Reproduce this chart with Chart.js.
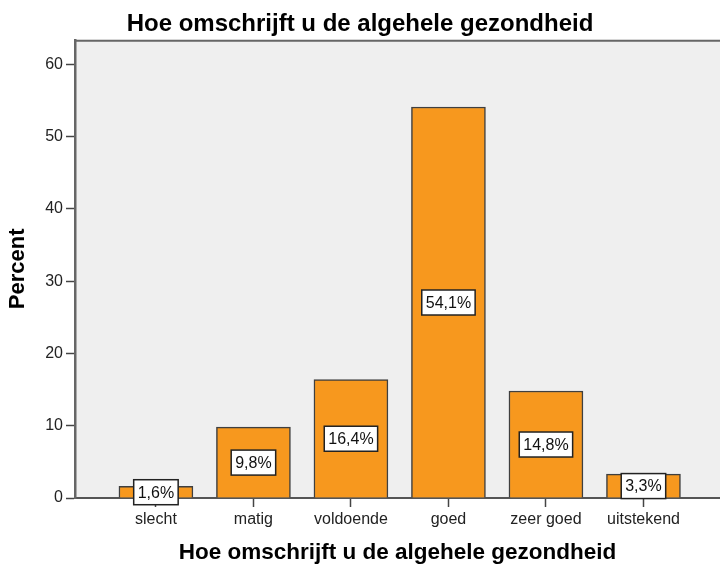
<!DOCTYPE html>
<html>
<head>
<meta charset="utf-8">
<script src="https://cdn.jsdelivr.net/npm/chart.js@4"></script>
<style>
  html,body{margin:0;padding:0;background:#fff;}
  #wrap{width:720px;height:570px;}
</style>
</head>
<body>
<div id="wrap"><canvas id="chart"></canvas></div>
<script>
// DATA
const categories = ["slecht","matig","voldoende","goed","zeer goed","uitstekend"];
const percents = [1.6, 9.8, 16.4, 54.1, 14.8, 3.3];
const yTicks = [0,10,20,30,40,50,60];
const chartTitle = "Hoe omschrijft u de algehele gezondheid";
const xTitle = "Hoe omschrijft u de algehele gezondheid";
const yTitle = "Percent";

const FONT = "'Liberation Sans', Arial, sans-serif";

// plot background + top frame line
const frame = {
  id:"frame",
  beforeDraw(chart){
    const {ctx, chartArea:a} = chart;
    ctx.save();
    ctx.fillStyle = "#efefef";
    ctx.fillRect(a.left, a.top, a.right-a.left, a.bottom-a.top);
    ctx.strokeStyle = "#666";
    ctx.lineWidth = 2;
    ctx.beginPath();
    ctx.moveTo(a.left, a.top+1);
    ctx.lineTo(a.right, a.top+1);
    ctx.stroke();
    ctx.restore();
  }
};

// value boxes in the middle of each bar
const boxLabels = {
  id:"boxLabels",
  afterDatasetsDraw(chart){
    const {ctx} = chart;
    const meta = chart.getDatasetMeta(0);
    const y = chart.scales.y;
    ctx.save();
    ctx.font = "16px " + FONT;
    ctx.textAlign = "center";
    ctx.textBaseline = "middle";
    meta.data.forEach((bar,i)=>{
      const v = percents[i];
      const txt = v.toFixed(1).replace(".", ",") + "%";
      const cy = y.getPixelForValue(v/2);
      const w = ctx.measureText(txt).width + 8;
      const h = 25;
      ctx.fillStyle = "#fff";
      ctx.fillRect(bar.x - w/2, cy - h/2, w, h);
      ctx.strokeStyle = "#222";
      ctx.lineWidth = 1.5;
      ctx.strokeRect(bar.x - w/2, cy - h/2, w, h);
      ctx.fillStyle = "#111";
      ctx.fillText(txt, bar.x, cy + 1);
    });
    ctx.restore();
  }
};

new Chart(document.getElementById("chart"), {
  type:"bar",
  data:{
    datasets:[{
      data: percents.map((v,i)=>({x:i, y:v})),
      backgroundColor:"#f7981e",
      borderColor:"#3f3f3f",
      borderWidth:1.5,
      barThickness:74
    }]
  },
  options:{
    responsive:true,
    maintainAspectRatio:false,
    animation:false,
    layout:{padding:0},
    plugins:{
      legend:{display:false},
      tooltip:{enabled:false},
      title:{
        display:true,
        text:chartTitle,
        color:"#000",
        font:{family:FONT, size:24, weight:"bold"},
        padding:{top:10, bottom:1}
      }
    },
    scales:{
      x:{
        type:"linear",
        offset:false,
        min:-0.83,
        max:5.785,
        afterFit(s){ s.height = 72; },
        afterBuildTicks(s){ s.ticks = categories.map((c,i)=>({value:i})); },
        ticks:{
          autoSkip:false, maxRotation:0, padding:3,
          color:"#222",
          font:{family:FONT, size:16},
          callback:(v)=>categories[v]
        },
        grid:{offset:false, drawOnChartArea:false, tickLength:9, tickColor:"#444", tickWidth:1.5},
        border:{display:true, color:"#555", width:2},
        title:{
          display:true, text:xTitle, color:"#000",
          font:{family:FONT, size:22.5, weight:"bold"},
          padding:{top:0, bottom:4}
        }
      },
      y:{
        min:0,
        max:63.4,
        afterFit(s){ s.width = 75; },
        afterBuildTicks(s){ s.ticks = yTicks.map(v=>({value:v})); },
        ticks:{
          padding:3, color:"#222",
          font:{family:FONT, size:16}
        },
        grid:{drawOnChartArea:false, tickLength:9, tickColor:"#444", tickWidth:1.5},
        border:{display:true, color:"#666", width:2.5},
        title:{
          display:true, text:yTitle, color:"#000",
          font:{family:FONT, size:22, weight:"bold"},
          padding:{top:5, bottom:0}
        }
      }
    }
  },
  plugins:[frame, boxLabels]
});
</script>
</body>
</html>
